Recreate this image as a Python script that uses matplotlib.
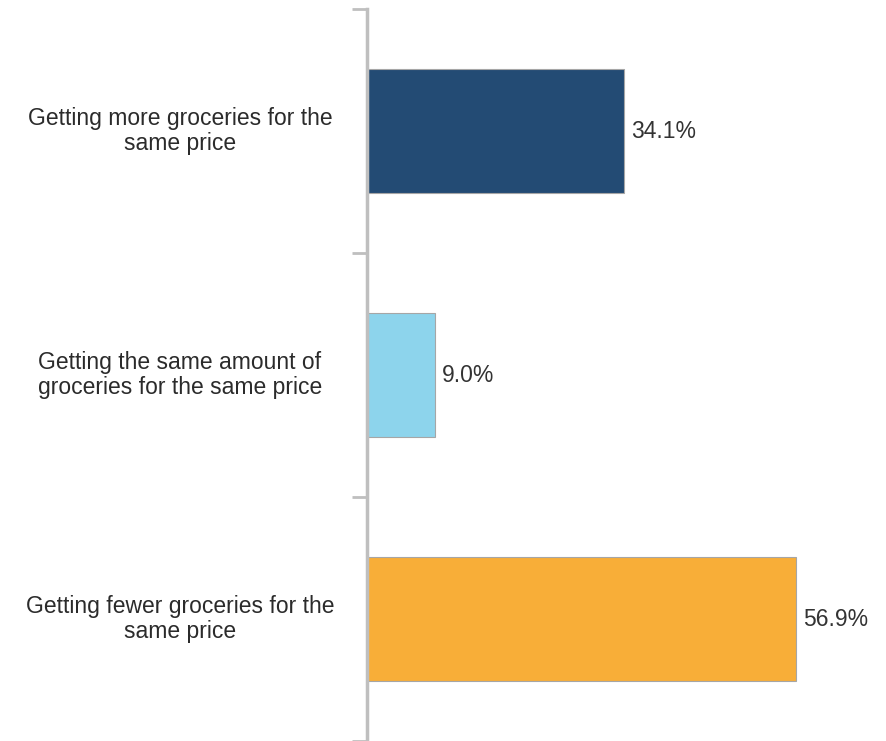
import matplotlib.pyplot as plt
import matplotlib.transforms as mtransforms
import numpy as np

plt.rcParams['font.family'] = ['Liberation Sans', 'DejaVu Sans']

categories = [
    'Getting more groceries for the\nsame price',
    'Getting the same amount of\ngroceries for the same price',
    'Getting fewer groceries for the\nsame price',
]
shares = [34.1, 9.0, 56.9]
colors = ['#234B74', '#8DD4EC', '#F8AE38']

fig = plt.figure(figsize=(8.86, 7.41), dpi=100)
ax = fig.add_axes([367 / 886, 0.0, 1 - 367 / 886, (741 - 9) / 741])

y = np.arange(len(categories))
ax.barh(y, shares, height=0.51, color=colors, edgecolor='#A6A6A6', linewidth=0.8)

for yi, v in zip(y, shares):
    ax.text(v + 1.0, yi, f'{v:.1f}%', va='center', ha='left', fontsize=16.5, color='#333333')

ax.set_xlim(0, 68.9)
ax.set_ylim(2.5, -0.5)

# ticks sit on the boundaries between categories
ax.set_yticks(np.arange(-0.5, 3.0, 1.0))
ax.set_yticklabels([])
ax.tick_params(axis='y', which='major', length=11, width=2, color='#BFBFBF')

# category labels centred in the left margin
trans = mtransforms.blended_transform_factory(fig.transFigure, ax.transData)
for yi, label in zip(y, categories):
    ax.text(180 / 886, yi, label, transform=trans, ha='center', va='center',
            multialignment='center', fontsize=16.5, linespacing=1.15, color='#2B2B2B')

ax.set_xticks([])
for side in ['top', 'right', 'bottom']:
    ax.spines[side].set_visible(False)
ax.spines['left'].set_color('#BFBFBF')
ax.spines['left'].set_linewidth(2.5)

fig.savefig('out.png', dpi=100)
